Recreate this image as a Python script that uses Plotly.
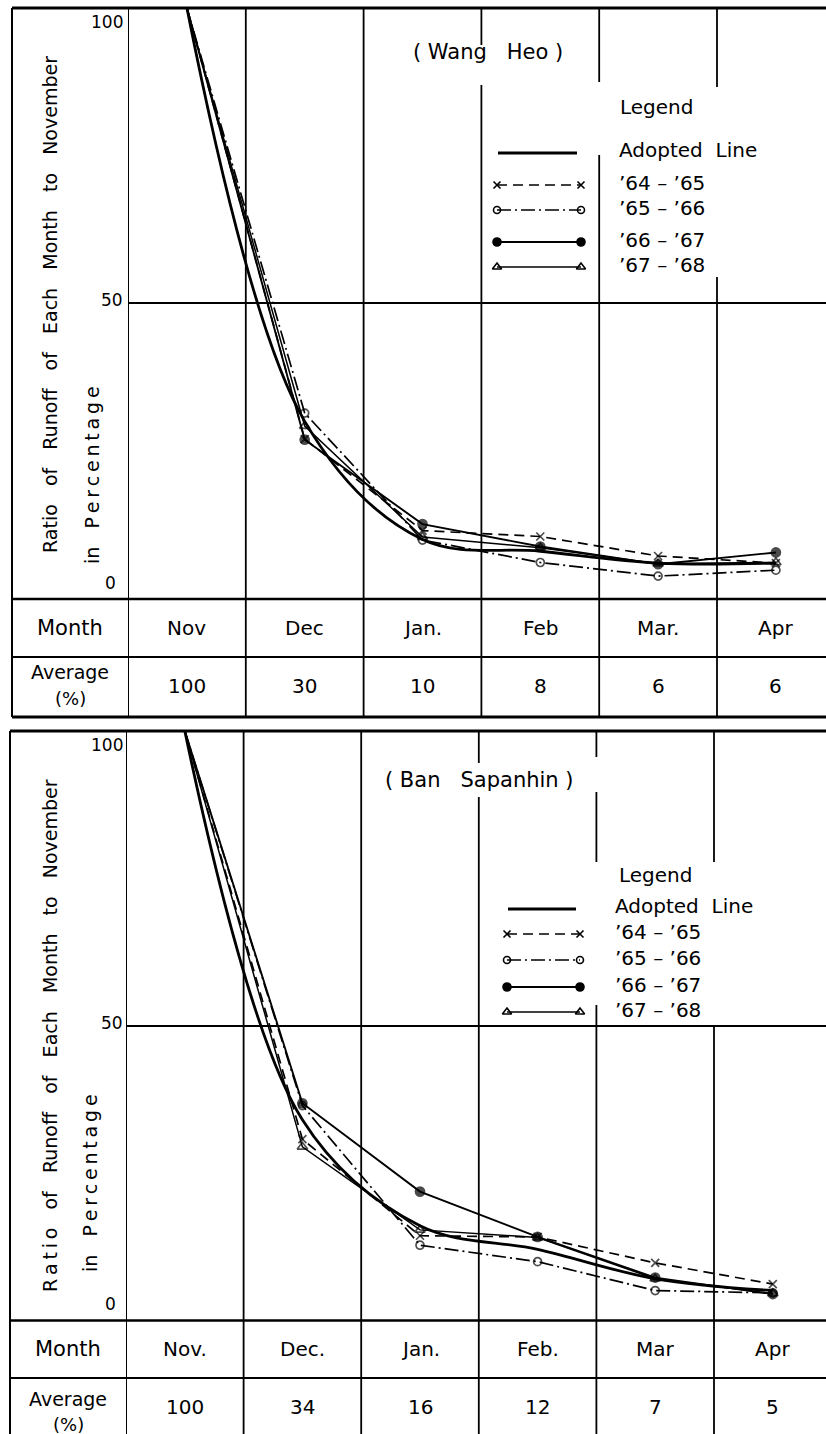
import plotly.graph_objects as go

FIG_W, FIG_H = 826, 1434
FONT = "DejaVu Sans"
NB = "\u00a0"      # non-breaking space
TS = "\u2009"      # thin space

# ---- Wang Heo -------------------------------------------------------------
wh_months = ["Nov", "Dec", "Jan.", "Feb", "Mar.", "Apr"]
wh_average = [100, 30, 10, 8, 6, 6]
wh_6465 = [100, 27.0, 11.5, 10.5, 7.2, 6.0]
wh_6566 = [100, 31.4, 9.9, 6.1, 3.8, 4.8]
wh_6667 = [100, 26.9, 12.6, 8.8, 5.8, 7.8]
wh_6768 = [100, 29.2, 10.4, 8.6, 5.9, 6.1]

# ---- Ban Sapanhin ---------------------------------------------------------
bs_months = ["Nov.", "Dec.", "Jan.", "Feb.", "Mar", "Apr"]
bs_average = [100, 34, 16, 12, 7, 5]
bs_6465 = [100, 30.7, 14.3, 14.1, 9.7, 6.1]
bs_6566 = [100, 36.4, 12.7, 9.9, 5.0, 4.6]
bs_6667 = [100, 36.8, 21.8, 14.1, 7.2, 4.4]
bs_6768 = [100, 29.4, 15.3, 14.0, 7.0, 4.5]

series_names = ["\u201964 \u2013 \u201965", "\u201965 \u2013 \u201966",
                "\u201966 \u2013 \u201967", "\u201967 \u2013 \u201968"]

# line / marker style of each year series
STYLES = [
    dict(dash="10px,6px", symbol="x-thin-open", size=8, width=1.7),
    dict(dash="14px,4px,2px,4px", symbol="circle-open", size=8, width=1.7),
    dict(dash="solid", symbol="circle", size=9, width=1.9),
    dict(dash="solid", symbol="triangle-up-open", size=9, width=1.5),
]

gap3 = NB * 3
ytitle_top = gap3.join(["Ratio", "of", "Runoff", "of", "Each", "Month", "to", "November"])
ytitle_bot = gap3.join([TS.join("Ratio"), "of", "Runoff", "of", "Each", "Month", "to", "November"])
ytitle2 = "in" + gap3 + TS.join("Percentage")

# page layout of the two panels (pixels)
PANELS = [
    dict(xa="x", ya="y", months=wh_months, avg=wh_average,
         series=[wh_6465, wh_6566, wh_6667, wh_6768],
         left=128, col=117.8, ybot=598.5, ytop=8, border=12,
         row1=657, row2=717, end=717,
         title="(" + NB + "Wang" + NB * 3 + "Heo" + NB + ")", title_xy=(488, 52),
         ytitle=ytitle_top, ytitle_xy=(50, 305), ytitle2_xy=(92, 475),
         month_y=628, avg_y=686, avg_lbl_y=(672, 698),
         legend_title=(618, 107), legend_x=617, legend_ys=[150, 183, 208, 240, 265],
         sample_x=(497, 581),
         vgaps=[[(8, 717)], [(8, 717)], [(8, 45), (85, 717)],
                [(8, 82), (155, 717)], [(8, 87), (277, 717)]]),
    dict(xa="x2", ya="y2", months=bs_months, avg=bs_average,
         series=[bs_6465, bs_6566, bs_6667, bs_6768],
         left=126, col=117.6, ybot=1320, ytop=731, border=10,
         row1=1378, row2=None, end=1434,
         title="(" + NB + "Ban" + NB * 3 + "Sapanhin" + NB + ")", title_xy=(479, 780),
         ytitle=ytitle_bot, ytitle_xy=(50, 1036), ytitle2_xy=(90, 1183),
         month_y=1349, avg_y=1407, avg_lbl_y=(1399, 1424),
         legend_title=(617, 875), legend_x=613, legend_ys=[906, 932, 958, 985, 1010],
         sample_x=(507, 580),
         vgaps=[[(731, 1434)], [(731, 1434)], [(731, 763), (797, 1434)],
                [(731, 757), (792, 862), (1005, 1434)], [(731, 862), (1026, 1434)]]),
]

fig = go.Figure()
shapes = []
annotations = []


def hline(y, x0, x1, w=2.0):
    shapes.append(dict(type="line", xref="x3", yref="y3", x0=x0, x1=x1, y0=y, y1=y,
                       line=dict(color="black", width=w), layer="above"))


def text(x, y, s, size=18, xanchor="center", xref="x3", yref="y3", angle=0, yanchor="middle", yshift=0):
    annotations.append(dict(x=x, y=y, xref=xref, yref=yref, text=s, showarrow=False,
                            xanchor=xanchor, yanchor=yanchor, textangle=angle, yshift=yshift,
                            font=dict(family=FONT, size=size, color="black")))


for p in PANELS:
    xa, ya = p["xa"], p["ya"]
    n = len(p["months"])

    # adopted (average) line, smooth
    fig.add_trace(go.Scatter(x=p["months"], y=p["avg"], xaxis=xa, yaxis=ya,
                             mode="lines", line=dict(color="black", width=2.8, shape="spline"),
                             showlegend=False, hoverinfo="skip"))
    # yearly series
    for vals, st in zip(p["series"], STYLES):
        fig.add_trace(go.Scatter(
            x=p["months"], y=vals, xaxis=xa, yaxis=ya, mode="lines+markers",
            line=dict(color="black", width=st["width"], dash=st["dash"]),
            marker=dict(symbol=st["symbol"], size=[0] + [st["size"]] * (n - 1),
                        color="black", line=dict(color="black", width=1.7)),
            cliponaxis=False, showlegend=False, hoverinfo="skip"))

    # frame and table lines
    hline(p["ytop"], p["border"], FIG_W, 3)
    hline(p["ybot"] + 0.5, p["border"], FIG_W, 2.6)
    hline(p["row1"], p["border"], FIG_W, 2)
    if p["row2"]:
        hline(p["row2"], p["border"], FIG_W, 3)
    shapes.append(dict(type="line", xref="x3", yref="y3", x0=p["border"], x1=p["border"],
                       y0=p["ytop"], y1=p["end"], line=dict(color="black", width=2), layer="above"))
    shapes.append(dict(type="line", xref=xa, yref="y3", x0=-0.5, x1=-0.5,
                       y0=p["ytop"], y1=p["end"], line=dict(color="black", width=2), layer="above"))
    for k, segs in enumerate(p["vgaps"]):
        for (a, b) in segs:
            shapes.append(dict(type="line", xref=xa, yref="y3", x0=k + 0.5, x1=k + 0.5,
                               y0=a, y1=b, line=dict(color="black", width=1.8), layer="above"))

    # y tick labels
    text(125, 100, "100", 17, "right", yref=ya, yanchor="top", yshift=-2)
    text(125, 50, "50", 17, "right", yref=ya, yanchor="middle", yshift=3)
    text(118, 0, "0", 17, "right", yref=ya, yanchor="bottom", yshift=4)

    # axis titles
    text(p["ytitle_xy"][0], p["ytitle_xy"][1], p["ytitle"], 19, angle=-90)
    text(p["ytitle2_xy"][0], p["ytitle2_xy"][1], ytitle2, 19, angle=-90)

    # station title
    text(p["title_xy"][0], p["title_xy"][1], p["title"], 21)

    # table
    lbl_x = (p["border"] + p["left"]) / 2
    text(lbl_x, p["month_y"], "Month", 21)
    text(lbl_x, p["avg_lbl_y"][0], "Average", 19)
    text(lbl_x, p["avg_lbl_y"][1], "(%)", 18)
    for m, a in zip(p["months"], p["avg"]):
        text(m, p["month_y"], m, 20, xref=xa)
        text(m, p["avg_y"], str(a), 20, xref=xa)

    # legend block
    text(p["legend_title"][0], p["legend_title"][1], "Legend", 20, "left")
    labels = ["Adopted" + NB * 2 + "Line"] + series_names
    x0s, x1s = p["sample_x"]
    for i, (lab, ly) in enumerate(zip(labels, p["legend_ys"])):
        text(p["legend_x"], ly, lab, 20, "left")
        if i == 0:
            fig.add_trace(go.Scatter(x=[x0s + 1, x1s - 4], y=[ly + 3, ly + 3], xaxis="x3", yaxis="y3",
                                     mode="lines", line=dict(color="black", width=2.8),
                                     showlegend=False, hoverinfo="skip"))
        else:
            st = STYLES[i - 1]
            fig.add_trace(go.Scatter(
                x=[x0s, x1s], y=[ly + 2, ly + 2], xaxis="x3", yaxis="y3", mode="lines+markers",
                line=dict(color="black", width=st["width"], dash=st["dash"]),
                marker=dict(symbol=st["symbol"], size=st["size"] - 1, color="black",
                            line=dict(color="black", width=1.6)),
                cliponaxis=False, showlegend=False, hoverinfo="skip"))

top, bot = PANELS
axis_common = dict(showline=False, zeroline=False, showticklabels=False, ticks="",
                   fixedrange=True)

fig.update_layout(
    width=FIG_W, height=FIG_H,
    margin=dict(l=0, r=0, t=0, b=0),
    paper_bgcolor="white", plot_bgcolor="rgba(0,0,0,0)",
    showlegend=False,
    xaxis=dict(domain=[top["left"] / FIG_W, 1], type="category",
               range=[-0.5, -0.5 + (FIG_W - top["left"]) / top["col"]],
               showgrid=False, anchor="y", **axis_common),
    yaxis=dict(domain=[1 - top["ybot"] / FIG_H, 1 - top["ytop"] / FIG_H], range=[0, 100],
               tickvals=[50], showgrid=True, gridcolor="black", gridwidth=1.6,
               anchor="x", **axis_common),
    xaxis2=dict(domain=[bot["left"] / FIG_W, 1], type="category",
                range=[-0.5, -0.5 + (FIG_W - bot["left"]) / bot["col"]],
                showgrid=False, anchor="y2", **axis_common),
    yaxis2=dict(domain=[1 - bot["ybot"] / FIG_H, 1 - bot["ytop"] / FIG_H], range=[0, 100],
                tickvals=[50], showgrid=True, gridcolor="black", gridwidth=1.6,
                anchor="x2", **axis_common),
    xaxis3=dict(domain=[0, 1], range=[0, FIG_W], visible=False, anchor="y3", fixedrange=True),
    yaxis3=dict(domain=[0, 1], range=[FIG_H, 0], visible=False, anchor="x3", fixedrange=True),
    shapes=shapes,
    annotations=annotations,
)

fig.write_html("out.html")
